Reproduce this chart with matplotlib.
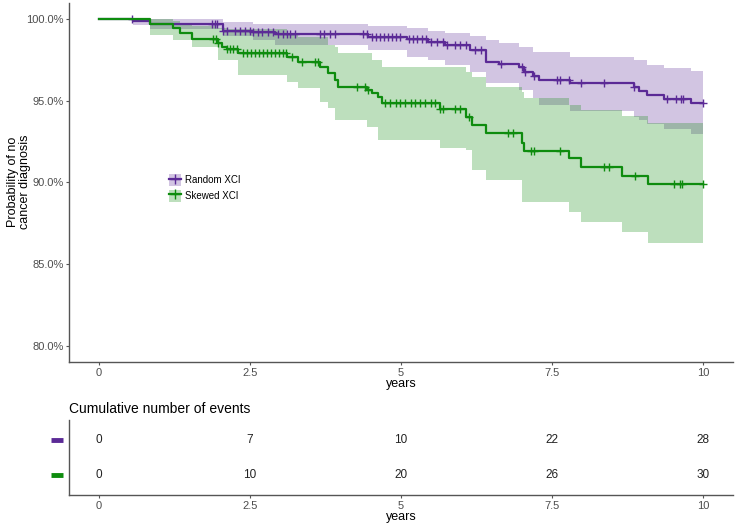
import matplotlib
matplotlib.use("Agg")
import matplotlib.pyplot as plt
import numpy as np
from matplotlib.lines import Line2D
from matplotlib.patches import Patch
from matplotlib.ticker import FuncFormatter

plt.rcParams['font.family'] = ['Liberation Sans', 'DejaVu Sans']

# Kaplan-Meier estimates (percent)
random_t = [0, 0.56, 0.85, 2.05, 2.55, 2.91, 4.46, 5.10, 5.44, 5.73, 6.15, 6.41, 6.63,
            6.96, 7.03, 7.19, 7.28, 7.80, 8.86, 8.94, 9.07, 9.35, 9.80]
random_surv = [100, 99.87, 99.69, 99.28, 99.18, 99.08, 98.91, 98.77, 98.61, 98.40, 98.10,
               97.38, 97.22, 97.04, 96.77, 96.51, 96.26, 96.06, 95.82, 95.59, 95.35, 95.10, 94.88]
random_upper = [100, 100, 99.99, 99.81, 99.69, 99.69, 99.57, 99.45, 99.26, 99.14, 98.92,
                98.71, 98.53, 98.29, 98.29, 97.98, 97.98, 97.67, 97.49, 97.49, 97.18, 97.00, 96.82]
random_lower = [100, 99.63, 99.38, 98.95, 98.71, 98.40, 98.10, 97.67, 97.49, 97.18, 96.75,
                96.08, 96.08, 95.65, 95.65, 95.17, 94.74, 94.37, 94.00, 93.82, 93.58, 93.27, 92.97]
random_cens = [0.54, 1.87, 1.92, 1.95, 2.05, 2.12, 2.25, 2.33, 2.42, 2.50, 2.55, 2.63, 2.70,
               2.80, 2.88, 2.96, 3.05, 3.11, 3.16, 3.25, 3.66, 3.73, 3.83, 3.91, 4.37, 4.44,
               4.52, 4.59, 4.66, 4.72, 4.79, 4.85, 4.92, 4.99, 5.14, 5.20, 5.27, 5.34, 5.42,
               5.50, 5.59, 5.69, 5.77, 5.90, 5.98, 6.07, 6.22, 6.32, 6.65, 7.01, 7.06, 7.20,
               7.59, 7.64, 7.79, 7.99, 8.36, 8.86, 9.40, 9.55, 9.64, 9.67, 10.0]

skewed_t = [0, 0.84, 1.22, 1.34, 1.54, 1.97, 2.03, 2.12, 2.30, 3.11, 3.29, 3.66, 3.79, 3.91,
            3.96, 4.44, 4.52, 4.62, 4.69, 5.65, 6.07, 6.18, 6.40, 7.01, 7.04, 7.79, 7.99,
            8.66, 9.09]
skewed_surv = [100, 99.69, 99.44, 99.16, 98.75, 98.53, 98.30, 98.14, 97.90, 97.67, 97.38,
               97.06, 96.69, 96.27, 95.84, 95.66, 95.47, 95.23, 94.86, 94.50, 94.01, 93.52,
               93.03, 92.42, 91.93, 91.50, 90.95, 90.40, 89.91]
skewed_upper = [100, 99.96, 99.87, 99.75, 99.57, 99.45, 99.45, 99.38, 99.38, 99.02, 98.89,
                98.89, 98.40, 98.28, 97.92, 97.92, 97.49, 97.49, 97.06, 97.06, 96.75, 96.45,
                95.84, 95.53, 95.17, 94.74, 94.43, 94.07, 93.64]
skewed_lower = [100, 99.02, 98.71, 98.71, 98.28, 97.49, 97.49, 97.49, 96.57, 96.14, 95.78,
                94.92, 94.55, 93.82, 93.82, 93.39, 93.39, 92.60, 92.60, 92.11, 91.99, 90.77,
                90.16, 88.81, 88.81, 88.20, 87.59, 86.98, 86.30]
skewed_cens = [1.88, 1.93, 1.97, 2.12, 2.17, 2.22, 2.28, 2.38, 2.45, 2.51, 2.58, 2.65, 2.71,
               2.78, 2.85, 2.91, 2.98, 3.05, 3.10, 3.20, 3.36, 3.58, 3.63, 4.27, 4.41, 4.46,
               4.74, 4.82, 4.91, 4.99, 5.07, 5.16, 5.24, 5.32, 5.40, 5.49, 5.57, 5.65, 5.70,
               5.90, 5.98, 6.12, 6.78, 6.85, 7.15, 7.20, 7.64, 8.36, 8.44, 8.87, 9.52, 9.62,
               9.65, 10.0]

table_times = [0, 2.5, 5, 7.5, 10]
random_events = [0, 7, 10, 22, 28]
skewed_events = [0, 10, 20, 26, 30]

t_end = 10
purple = '#5B2A96'
green = '#0E8C0E'
grey_txt = '#4D4D4D'
axis_col = '#555555'

groups = [
    ('Random XCI', purple, random_t, random_surv, random_upper, random_lower, random_cens),
    ('Skewed XCI', green, skewed_t, skewed_surv, skewed_upper, skewed_lower, skewed_cens),
]

fig = plt.figure(figsize=(7.35, 5.25), dpi=100)
ax = fig.add_axes([69 / 735, 1 - 362 / 525, 664 / 735, 359.5 / 525])
tab = fig.add_axes([69 / 735, 1 - 495 / 525, 664 / 735, 75 / 525])

handles = []
for name, col, t, s, up, lo, cens in groups:
    tt = np.append(t, t_end)
    ss = np.append(s, s[-1])
    uu = np.append(up, up[-1])
    ll = np.append(lo, lo[-1])
    ax.fill_between(tt, ll, uu, step='post', color=col, alpha=0.27, linewidth=0)
    ax.step(tt, ss, where='post', color=col, linewidth=1.6)
    # censoring marks sit on the curve
    idx = np.searchsorted(t, cens, side='right') - 1
    ax.plot(cens, np.array(s)[idx], linestyle='none', marker='+', markersize=6,
            markeredgewidth=1.0, color=col)
    handles.append((Patch(facecolor=col, alpha=0.27, edgecolor='none'),
                    Line2D([], [], color=col, linewidth=1.6, marker='+', markersize=7)))

ax.set_xlim(-0.5, 10.5)
ax.set_ylim(79, 101)
ax.set_xticks(table_times)
ax.set_xticklabels(['0', '2.5', '5', '7.5', '10'])
ax.set_yticks([80, 85, 90, 95, 100])
ax.yaxis.set_major_formatter(FuncFormatter(lambda v, p: f'{v:.1f}%'))
ax.set_xlabel('years', fontsize=9, labelpad=0)
fig.text(19 / 735, 1 - 182 / 525, 'Probability of no\ncancer diagnosis', rotation=90,
         ha='center', va='center', fontsize=9, linespacing=1.0)

leg = ax.legend(handles, ['Random XCI', 'Skewed XCI'], loc='upper left',
                bbox_to_anchor=(0.143, 0.537), frameon=False, fontsize=7,
                handlelength=1.3, handleheight=1.6, handletextpad=0.4,
                borderpad=0, labelspacing=0.35)

# risk table
for yrow, (name, col, vals) in zip([2, 1], [('Random XCI', purple, random_events),
                                              ('Skewed XCI', green, skewed_events)]):
    for x, v in zip(table_times, vals):
        tab.text(x, yrow, str(v), ha='center', va='center', fontsize=8.5, color='#222222')
    tab.plot([-0.70], [yrow], marker='_', markersize=8, markeredgewidth=3.5,
             color=col, clip_on=False)

tab.set_xlim(-0.5, 10.5)
tab.set_ylim(0.43, 2.57)
tab.set_xticks(table_times)
tab.set_xticklabels(['0', '2.5', '5', '7.5', '10'])
tab.set_yticks([])
tab.set_xlabel('years', fontsize=9, labelpad=0)
tab.set_title('Cumulative number of events', fontsize=10, loc='left', pad=5)

for a in (ax, tab):
    for side in ('top', 'right'):
        a.spines[side].set_visible(False)
    for side in ('left', 'bottom'):
        a.spines[side].set_color(axis_col)
        a.spines[side].set_linewidth(1.0)
    a.tick_params(colors=axis_col, labelcolor=grey_txt, labelsize=8, length=2.5,
                  width=0.8, pad=1.5)

fig.savefig('out.png', dpi=100)
